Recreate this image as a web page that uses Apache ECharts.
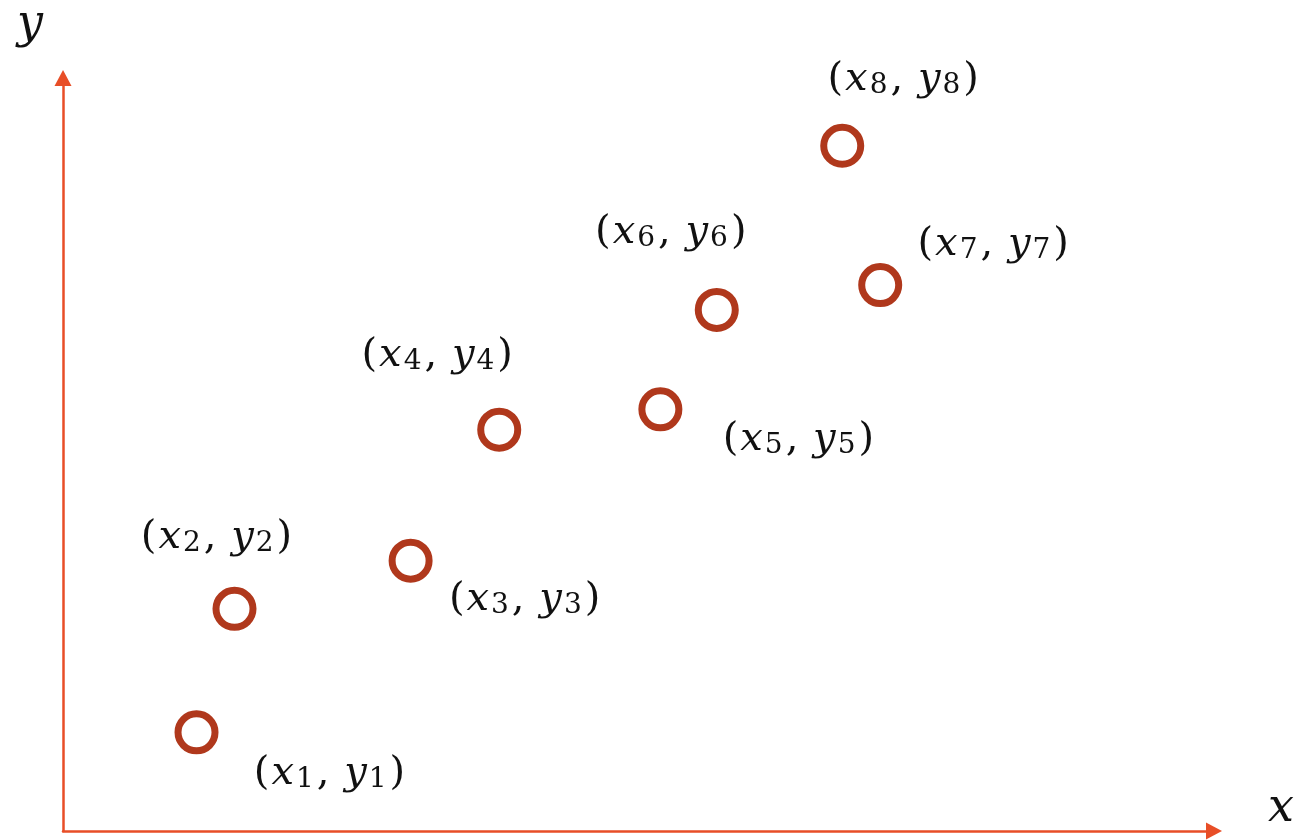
<!DOCTYPE html>
<html>
<head>
<meta charset="utf-8">
<script src="https://cdn.jsdelivr.net/npm/echarts@6/dist/echarts.min.js"></script>
<style>
  html, body { margin: 0; padding: 0; background: #fff; }
  #chart { width: 1307px; height: 840px; }
</style>
</head>
<body>
<div id="chart"></div>
<script>
// point values (arbitrary units 0..10)
const pointIds = ['1', '2', '3', '4', '5', '6', '7', '8'];
const xValues = [1.16, 1.49, 3.02, 3.79, 5.19, 5.68, 7.10, 6.77];
const yValues = [1.31, 2.95, 3.59, 5.33, 5.60, 6.92, 7.25, 9.10];

// where each label sits relative to its circle (px)
const labelOffsets = [
    [133, 34], [-18, -78], [114, 32], [-62, -81],
    [138, 23], [-46, -84], [113, -47], [61, -73]
];

const AXIS_COLOR = '#e84e27';
const DOT_COLOR = '#b0381c';
const FONT = '"DejaVu Serif", "Liberation Serif", serif';

const chart = echarts.init(document.getElementById('chart'));

const richStyles = {
    p: { fontFamily: FONT, fontSize: 40, color: '#111', lineHeight: 54, padding: [0, 1], verticalAlign: 'bottom' },
    i: { fontFamily: FONT, fontSize: 40, fontStyle: 'italic', color: '#111', lineHeight: 54, padding: [0, 1], verticalAlign: 'bottom' },
    s: { fontFamily: FONT, fontSize: 28, color: '#111', lineHeight: 28, padding: [26, 2, 0, 1], verticalAlign: 'bottom' }
};

const points = pointIds.map((id, i) => ({
    value: [xValues[i], yValues[i]],
    label: {
        show: true,
        position: 'inside',
        offset: labelOffsets[i],
        formatter: `{p|(}{i|x}{s|${id}}{p|, }{i|y}{s|${id}}{p|)}`,
        rich: richStyles
    }
}));

// triangle is centred on the axis end, so the grid stops half an arrow short
const axisLine = {
    show: true,
    symbol: ['none', 'triangle'],
    symbolSize: [17, 16],
    lineStyle: { color: AXIS_COLOR, width: 2.5 }
};

chart.setOption({
    animation: false,
    backgroundColor: '#fff',
    grid: { left: 63, right: 93, top: 78, bottom: 9 },
    xAxis: {
        type: 'value', min: 0, max: 10,
        axisLine: axisLine,
        axisTick: { show: false },
        axisLabel: { show: false },
        splitLine: { show: false }
    },
    yAxis: {
        type: 'value', min: 0, max: 10,
        axisLine: axisLine,
        axisTick: { show: false },
        axisLabel: { show: false },
        splitLine: { show: false }
    },
    graphic: [
        {
            type: 'text', left: 17, top: 2,
            style: { text: 'y', fontFamily: FONT, fontStyle: 'italic', fontSize: 46, fill: '#111' }
        },
        {
            type: 'text', left: 1268, top: 786,
            style: { text: 'x', fontFamily: FONT, fontStyle: 'italic', fontSize: 46, fill: '#111' }
        }
    ],
    series: [{
        type: 'scatter',
        symbol: 'circle',
        symbolSize: 37,
        itemStyle: { color: '#fff', borderColor: DOT_COLOR, borderWidth: 7, opacity: 1 },
        data: points
    }]
});
</script>
</body>
</html>
